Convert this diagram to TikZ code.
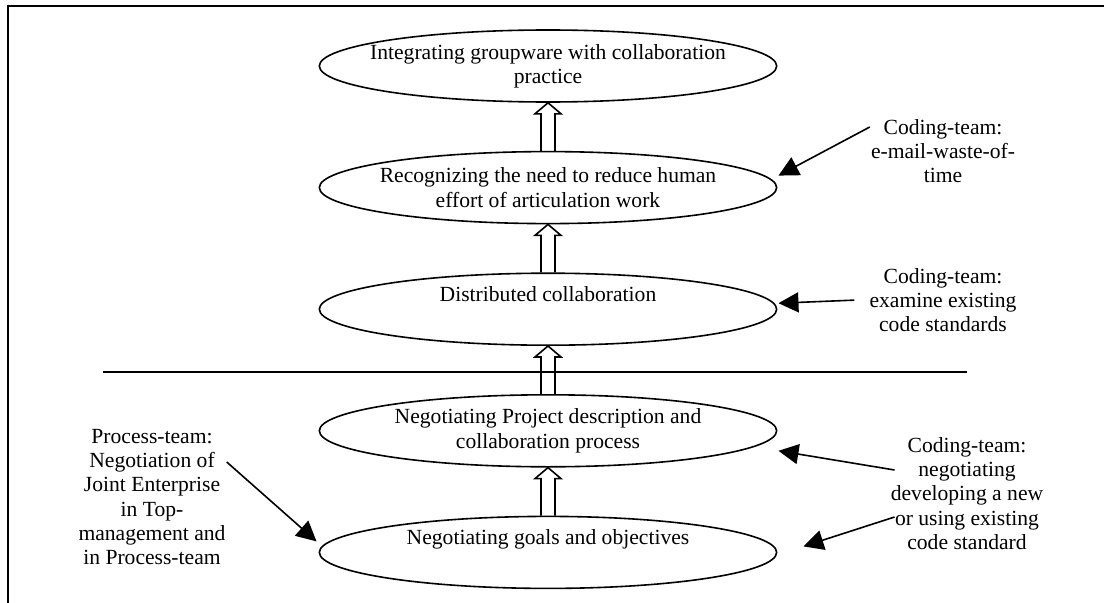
\documentclass[tikz,border=0pt]{standalone}
\usepackage{fontspec}
\setmainfont{Liberation Serif}
\usepackage{tikz}
\usetikzlibrary{arrows.meta,positioning,calc,shapes.geometric}

% hollow block arrow pointing up from #1 to #2
\newcommand{\upblock}[2]{%
  \draw[line width=1.2pt] ($(#1.north)+(-7,0)$) -- ($(#2.south)+(-7,11)$)
    -- ($(#2.south)+(-13,11)$) -- (#2.south) -- ($(#2.south)+(13,11)$)
    -- ($(#2.south)+(7,11)$) -- ($(#1.north)+(7,0)$);}

\begin{document}
\begin{tikzpicture}[x=0.75pt, y=-0.75pt, node distance=36pt,
    every node/.style={font=\fontsize{16.2pt}{18.2pt}\selectfont},
    stage/.style={draw, ellipse, line width=1.2pt, minimum width=343pt,
      minimum height=54pt, inner xsep=-60pt, inner ysep=0pt, align=center},
    oneline/.style={text height=11pt, text depth=23pt},
    note/.style={align=center, inner sep=0pt, anchor=north},
    pointer/.style={-{Triangle[length=15pt, width=15pt]}, line width=1.2pt}]
  \useasboundingbox (0,0) rectangle (1104,603);
  \draw[line width=1.5pt] (8,603) -- (8,6) -- (1104,6);

  \node[stage] (integr) at (548,66)
    {Integrating groupware with collaboration\\practice};
  \node[stage, below=of integr] (recog)
    {Recognizing the need to reduce human\\effort of articulation work};
  \node[stage, oneline, below=of recog] (distr) {Distributed collaboration};
  \node[stage, below=of distr] (projdesc)
    {Negotiating Project description and\\collaboration process};
  \node[stage, oneline, below=of projdesc] (goals)
    {Negotiating goals and objectives};

  \upblock{recog}{integr}
  \upblock{distr}{recog}
  \upblock{projdesc}{distr}
  \upblock{goals}{projdesc}

  \draw[line width=1.2pt] (103,372) -- (967,372);

  \node[note] (mailnote) at (943,119) {Coding-team:\\e-mail-waste-of-\\time};
  \node[note] (stdnote) at (943,268) {Coding-team:\\examine existing\\code standards};
  \node[note] (negnote) at (967,437)
    {Coding-team:\\negotiating\\developing a new\\or using existing\\code standard};
  \node[note] (procnote) at (152,429)
    {Process-team:\\Negotiation of\\Joint Enterprise\\in Top-\\management and\\in Process-team};

  \draw[pointer] ($(mailnote.north west)+(-1,8)$) -- ($(recog.east)+(1,-12)$);
  \draw[pointer] ($(stdnote.west)+(-15,0)$) -- ($(distr.east)+(1,-6)$);
  \draw[pointer] ($(negnote.north west)+(4,33)$) -- ($(projdesc.east)+(1,20)$);
  \draw[pointer] ($(negnote.north west)+(4,80)$) -- ($(goals.east)+(26,-6)$);
  \draw[pointer] ($(procnote.north east)+(1,33)$) -- ($(goals.west)+(-2,-11)$);
\end{tikzpicture}
\end{document}
